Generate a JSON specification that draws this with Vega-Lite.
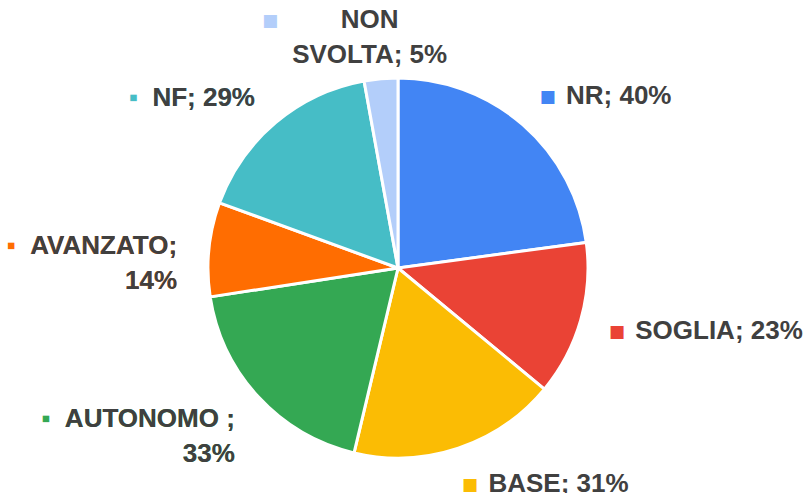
{
  "$schema": "https://vega.github.io/schema/vega-lite/v6.json",
  "autosize": {"type": "none"},
  "width": 796,
  "height": 450,
  "padding": {"left": 0, "top": 43, "right": 8, "bottom": 0},
  "background": "white",
  "config": {"view": {"stroke": null}, "text": {"font": "Liberation Sans"}},
  "data": {
    "values": [
      {"cat": "NR", "label": "NR; 40%", "value": 40, "ord": 1},
      {"cat": "SOGLIA", "label": "SOGLIA; 23%", "value": 23, "ord": 2},
      {"cat": "BASE", "label": "BASE; 31%", "value": 31, "ord": 3},
      {"cat": "AUTONOMO", "label": "AUTONOMO ;\n33%", "value": 33, "ord": 4},
      {"cat": "AVANZATO", "label": "AVANZATO;\n14%", "value": 14, "ord": 5},
      {"cat": "NF", "label": "NF; 29%", "value": 29, "ord": 6},
      {"cat": "NON SVOLTA", "label": "NON\nSVOLTA; 5%", "value": 5, "ord": 7}
    ]
  },
  "encoding": {
    "theta": {"field": "value", "type": "quantitative", "stack": true},
    "order": {"field": "ord", "type": "quantitative"},
    "color": {
      "field": "cat",
      "type": "nominal",
      "scale": {
        "domain": ["NR", "SOGLIA", "BASE", "AUTONOMO", "AVANZATO", "NF", "NON SVOLTA"],
        "range": ["#4285F4", "#EA4335", "#FBBC04", "#34A853", "#FF6D01", "#46BDC6", "#B3CEFA"]
      },
      "legend": null
    }
  },
  "layer": [
    {"mark": {"type": "arc", "outerRadius": 190, "stroke": "white", "strokeWidth": 3}},
    {
      "mark": {"type": "text", "radius": 228, "align": "center", "baseline": "middle", "fontSize": 26, "font": "DejaVu Sans", "fontWeight": "bold"},
      "encoding": {
        "text": {"condition": {"test": "indexof(['NR','SOGLIA','BASE'], datum.cat) >= 0", "value": "▪"}, "value": ""}
      }
    },
    {
      "mark": {"type": "text", "radius": 228, "align": "left", "dx": 18, "baseline": "middle", "fontSize": 26, "fontWeight": "bold", "lineBreak": "\n", "lineHeight": 35},
      "encoding": {
        "color": {"value": "#404040"},
        "detail": {"field": "cat", "type": "nominal"},
        "text": {"condition": {"test": "indexof(['NR','SOGLIA','BASE'], datum.cat) >= 0", "field": "label"}, "value": ""}
      }
    },
    {
      "transform": [{"calculate": "'▪\u00a0\u00a0' + datum.label", "as": "key"}],
      "mark": {"type": "text", "radius": 222, "align": "right", "baseline": "middle", "fontSize": 26, "fontWeight": "bold", "lineBreak": "\n", "lineHeight": 35},
      "encoding": {
        "text": {"condition": {"test": "indexof(['AUTONOMO','AVANZATO','NF'], datum.cat) >= 0", "field": "key"}, "value": ""}
      }
    },
    {
      "mark": {"type": "text", "radius": 222, "align": "right", "baseline": "middle", "fontSize": 26, "fontWeight": "bold", "lineBreak": "\n", "lineHeight": 35},
      "encoding": {
        "color": {"value": "#404040"},
        "detail": {"field": "cat", "type": "nominal"},
        "text": {"condition": {"test": "indexof(['AUTONOMO','AVANZATO','NF'], datum.cat) >= 0", "field": "label"}, "value": ""}
      }
    },
    {
      "mark": {"type": "text", "radius": 249, "align": "center", "baseline": "middle", "dx": -6, "fontSize": 26, "fontWeight": "bold", "lineBreak": "\n", "lineHeight": 35},
      "encoding": {
        "color": {"value": "#404040"},
        "detail": {"field": "cat", "type": "nominal"},
        "text": {"condition": {"test": "datum.cat === 'NON SVOLTA'", "field": "label"}, "value": ""}
      }
    },
    {
      "mark": {"type": "text", "radius": 249, "align": "center", "baseline": "middle", "dx": -105, "fontSize": 26, "font": "DejaVu Sans", "fontWeight": "bold"},
      "encoding": {
        "text": {"condition": {"test": "datum.cat === 'NON SVOLTA'", "value": "▪"}, "value": ""}
      }
    }
  ]
}
